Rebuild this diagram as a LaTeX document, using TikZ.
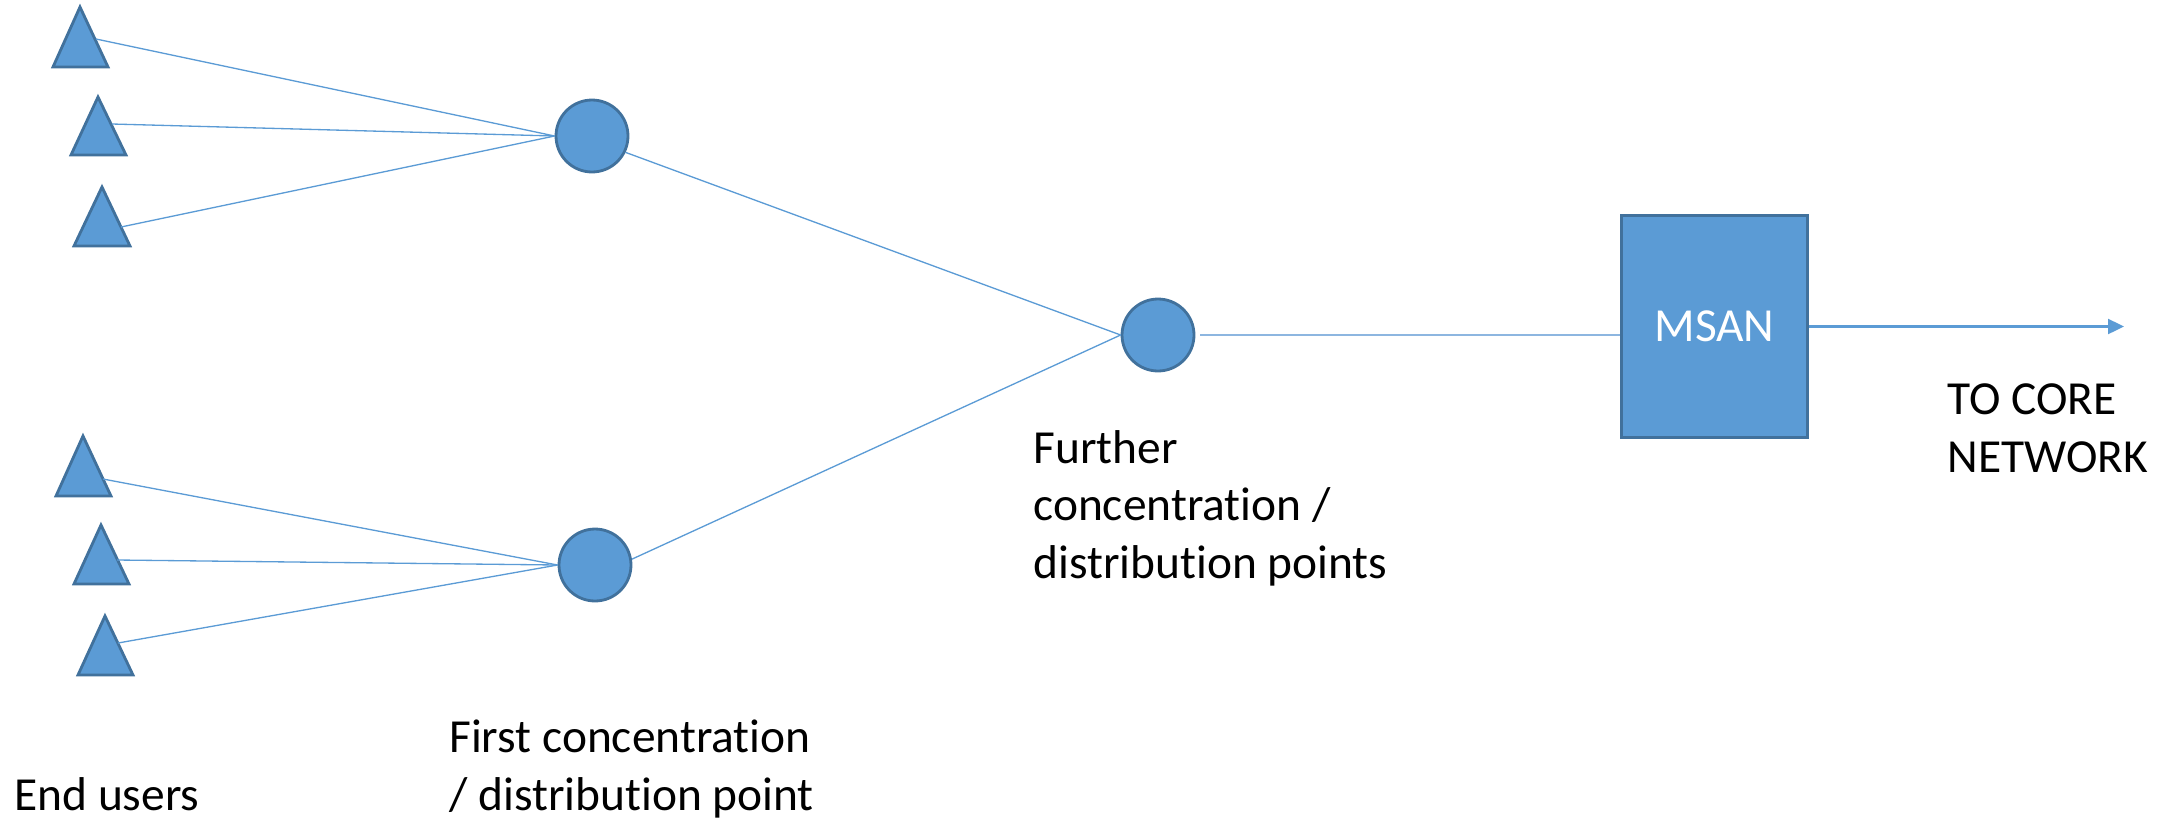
\documentclass[tikz,border=0pt]{standalone}
\usepackage{fontspec}
\setmainfont{Carlito}[Ligatures=NoCommon]
\usetikzlibrary{arrows.meta}
\definecolor{ofblue}{HTML}{5B9BD5}
\definecolor{ofedge}{HTML}{41719C}
\definecolor{oflight}{HTML}{8DB6E0}
\begin{document}
\begin{tikzpicture}[x=0.02cm,y=-0.02cm,
  userbox/.style={fill=ofblue,draw=ofedge,line width=1.6pt,line join=miter},
  hub/.style={circle,fill=ofblue,draw=ofedge,line width=1.6pt,minimum size=1.44cm,inner sep=0pt},
  msanbox/.style={rectangle,fill=ofblue,draw=ofedge,line width=1.6pt,minimum width=3.72cm,minimum height=4.44cm,inner sep=0pt,
    text=white,font=\fontsize{27pt}{32.7pt}\selectfont},
  link/.style={draw=ofblue,line width=0.75pt},
  trunk/.style={draw=oflight,line width=1.2pt},
  lbl/.style={font=\fontsize{27pt}{32.7pt}\selectfont,inner sep=0pt,align=left,anchor=base west}]
\path[use as bounding box] (0,0) rectangle (2166,822);

% end users (triangles)
\path[userbox] (80,7) -- (108,67) -- (53,67) -- cycle;
\path[userbox] (98,97) -- (126,155) -- (71,155) -- cycle;
\path[userbox] (102,187) -- (130,246) -- (74,246) -- cycle;
\path[userbox] (83,436) -- (111,496) -- (56,496) -- cycle;
\path[userbox] (101,525) -- (129,584) -- (74,584) -- cycle;
\path[userbox] (105,616) -- (133,675) -- (78,675) -- cycle;
\coordinate (u1) at (96,39);
\coordinate (u2) at (112,124);
\coordinate (u3) at (121,227);
\coordinate (u4) at (103,479);
\coordinate (u5) at (117,560);
\coordinate (u6) at (118,643);

% concentration points
\node[hub] (c1) at (592,136) {};
\node[hub] (c3) at (595,565) {};
\node[hub] (c2) at (1158,335) {};
\node[msanbox] (msan) at (1714.5,326.5) {MSAN};
\coordinate (core) at (2124,326.5);

% connectors
\draw[link] (u1) -- (c1.west);
\draw[link] (u2) -- (c1.west);
\draw[link] (u3) -- (c1.west);
\draw[link] (u4) -- (c3.west);
\draw[link] (u5) -- (c3.west);
\draw[link] (u6) -- (c3.west);
\draw[link] (c1.-26) -- (c2.west);
\draw[link] (c3.9) -- (c2.west);
\draw[trunk,shorten <=0.1cm] (c2.east) -- (c2.east -| msan.west);
\draw[draw=ofblue,line width=1.3pt,-{Triangle[length=0.32cm,width=0.3cm]}] (msan.east) -- (core);

% labels (anchor = baseline of the last line)
\node[lbl] (lend) at (14,810) {End users};
\node[lbl] (lfirst) at (449,810) {First concentration\\/ distribution point};
\node[lbl] (lfurther) at (1033,578) {Further\\concentration /\\distribution points};
\node[lbl] (lcore) at (1947,472) {TO CORE\\NETWORK};
\end{tikzpicture}
\end{document}
